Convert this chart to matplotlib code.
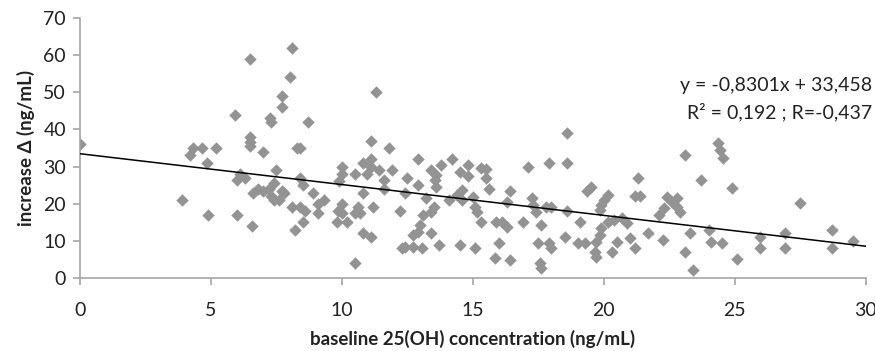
import matplotlib
matplotlib.use("Agg")
import matplotlib.pyplot as plt
import numpy as np

baseline = [
    0, 3.9, 4.2, 4.3, 4.65, 4.85, 4.9, 5.2,
    5.9, 6.0, 6.0, 6.1, 6.3, 6.5, 6.5, 6.5, 6.5, 6.55, 6.6,
    6.8, 7.0, 7.25, 7.3, 7.0, 7.2, 7.4, 7.3, 7.5, 7.4, 7.6, 7.7, 7.8,
    7.7, 7.7, 8.0, 8.1,
    8.1, 8.3, 8.4, 8.2, 8.4, 8.6, 8.4, 8.5, 8.9, 8.5, 8.7, 9.1, 9.3, 9.1,
    9.85, 10.0, 9.8, 10.2, 10.0, 10.0, 10.0, 9.9, 10.5, 10.8, 11.1, 11.1, 11.4, 10.95,
    11.9, 11.6, 11.6, 10.8, 10.6, 10.7, 10.5, 11.2, 10.8, 11.1, 10.5, 11.1, 11.3, 11.8,
    12.2, 12.3,
    12.9, 13.8, 13.4, 13.6, 13.55, 13.6, 14.2, 14.8, 14.5, 14.8, 15.3, 15.5, 15.5, 15.6,
    12.5, 12.9, 12.4, 13.2, 13.5, 13.4, 13.1, 13.0, 12.9, 12.7, 14.1, 14.4, 14.6, 14.6,
    15.0, 15.1, 15.15, 15.3, 13.4, 12.4, 12.7, 13.05, 13.7, 14.5, 15.1, 15.9, 16.1, 16.3,
    16.0, 15.85, 16.4, 16.4, 16.3,
    17.1, 17.9, 18.6, 18.6, 16.9, 17.25, 17.3, 17.4, 17.6, 17.5, 17.9, 18.0, 17.55, 17.6,
    17.8, 18.0, 18.6, 18.5, 19.0, 19.3, 19.1, 19.5, 19.35, 20.15, 20.0, 19.9, 19.85, 19.9,
    19.85, 19.7, 19.65, 19.7, 20.15, 20.4, 20.7, 20.9, 20.5, 20.3, 21.0, 21.2, 21.3, 21.2,
    21.4, 21.7, 22.25,
    22.4, 22.6, 22.8, 22.8, 22.9, 22.1, 22.3, 23.1, 23.7, 23.3, 23.1, 23.4, 24.0, 24.1,
    24.5, 24.35, 24.45, 24.55, 24.9, 25.1, 25.95, 25.95, 26.9, 26.9, 27.5, 28.7, 28.7, 29.5,
]
increase = [
    36, 21, 33, 35, 35, 31, 17, 35,
    44, 17, 26.4, 28, 27, 59, 38, 36.6, 35.5, 14, 23,
    24, 34, 43, 42, 23.5, 24, 25.6, 22, 29, 21, 21, 23.5, 23,
    46, 49, 54, 62,
    19, 35, 35, 13, 19, 18, 27, 25, 23, 15, 42, 20, 21, 17.5,
    18, 17.5, 15, 15, 20, 30, 28, 26, 28, 31, 32, 30, 29, 28,
    29, 26.4, 24, 23, 19, 17.5, 17.5, 19, 12, 11, 4, 37, 50, 35,
    18, 8,
    32, 30.4, 29, 27.7, 26.4, 24.5, 32, 30.4, 28.5, 27.5, 29.6, 29.3, 27, 24,
    27, 25, 23, 21.5, 19, 17.8, 17, 14.3, 12.4, 11.6, 21, 22.3, 23.7, 21,
    21.8, 19, 17.8, 15, 12, 8.3, 8.3, 8, 9, 9, 8, 15, 15, 13.7,
    9.4, 5.4, 4.8, 23.5, 20.5,
    30, 31, 31, 39, 15, 21.5, 19.7, 17.8, 14.3, 9.4, 9.4, 8, 4, 2.8,
    19, 19, 18, 11, 9.4, 9.4, 15, 24.5, 23.5, 22.3, 21, 19.7, 18.3, 13.5,
    11.6, 9.7, 7, 5.7, 15, 15.6, 16.2, 14.8, 9.7, 7, 10.8, 8, 27, 22,
    22, 12, 10.2,
    21.8, 20.5, 21.5, 19, 17.8, 17, 18.8, 33, 26.4, 12, 7, 2.2, 13, 9.7,
    9.4, 36.3, 34.5, 32.3, 24.2, 5.2, 11, 8, 12, 8, 20.2, 13, 8, 10,
]
slope = -0.8301
intercept = 33.458
eq_lines = ["y = -0,8301x + 33,458", "R\u00b2 = 0,192 ; R=-0,437"]
x_ticks = [0, 5, 10, 15, 20, 25, 30]
y_ticks = [0, 10, 20, 30, 40, 50, 60, 70]

plt.rcParams['font.family'] = ['Lato', 'DejaVu Sans']

fig = plt.figure(figsize=(8.75, 3.51), dpi=100)
ax = fig.add_axes([0.0914, 0.208, 0.898, 0.7407])

ax.scatter(baseline, increase, marker='D', s=40, color='#939393', linewidths=0, zorder=2)
xl = np.array([0, 30])
ax.plot(xl, slope * xl + intercept, color='black', lw=1.1, zorder=3)

ax.set_xlim(0, 30)
ax.set_ylim(0, 70)
ax.set_xticks(x_ticks)
ax.set_yticks(y_ticks)
for s in ['top', 'right']:
    ax.spines[s].set_visible(False)
for s in ['left', 'bottom']:
    ax.spines[s].set_color('#a6a6a6')
    ax.spines[s].set_linewidth(1.2)
ax.tick_params(axis='both', direction='out', length=5, color='#a6a6a6', width=1.2,
               labelsize=14, labelcolor='#222222')
ax.tick_params(axis='x', pad=12)
ax.tick_params(axis='y', pad=5)

ax.set_xlabel('baseline 25(OH) concentration (ng/mL)', fontsize=13.5, fontweight='bold',
              color='#222222', labelpad=8)
ax.set_ylabel('increase \u0394 (ng/mL)', fontsize=13.5, fontweight='bold', color='#222222',
              labelpad=6)

fig.text(0.9966, (351 - 85) / 351, eq_lines[0], ha='right', va='center',
         fontsize=14, color='#222222')
fig.text(0.9966, (351 - 112) / 351, eq_lines[1], ha='right', va='center',
         fontsize=14, color='#222222')

fig.savefig('out.png', dpi=100)
